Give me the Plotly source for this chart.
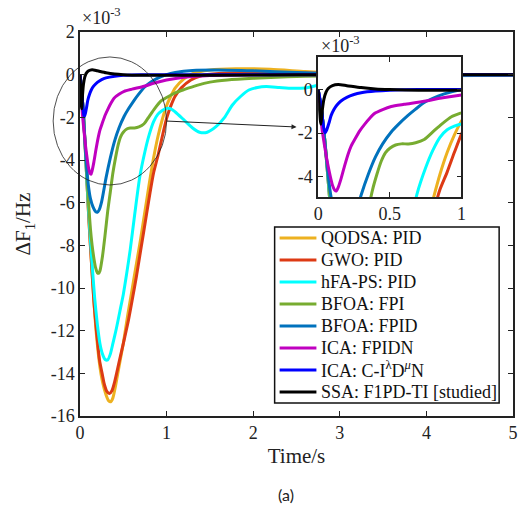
import plotly.graph_objects as go

# ---------------- data (values in units of 1e-3 Hz) ----------------
NAMES = ["QODSA: PID", "GWO: PID", "hFA-PS: PID", "BFOA: FPI", "BFOA: FPID",
         "ICA: FPIDN", "ICA: C-I<sup>λ</sup>D<sup><i>μ</i></sup>N", "SSA: F1PD-TI [studied]"]
COLORS = ["#EDB120", "#DD3A14", "#00FFFF", "#77AC30", "#0072BD", "#C000C0", "#0000FF", "#000000"]

t_qodsa = [0, 0.02, 0.04, 0.06, 0.08, 0.1, 0.12, 0.14, 0.16, 0.19, 0.23, 0.26, 0.3, 0.33, 0.355, 0.38, 0.41,
           0.45, 0.5, 0.55, 0.6, 0.65, 0.7, 0.75, 0.8, 0.85, 0.9, 0.95, 1.0, 1.05, 1.1, 1.2, 1.3, 1.5, 1.8, 2.2,
           2.6, 3.0, 3.5, 4.0, 5.0]
v_qodsa = [0, -0.8, -1.9, -3.4, -5.0, -6.6, -8.0, -9.3, -10.6, -12.2, -13.7, -14.4, -15.0, -15.28, -15.33,
           -15.15, -14.6, -13.7, -12.6, -11.3, -10.1, -8.9, -7.7, -6.4, -5.1, -3.9, -2.9, -2.1, -1.45, -1.0,
           -0.62, -0.2, 0.05, 0.22, 0.28, 0.25, 0.15, 0.07, 0.02, 0.0, 0.0]

t_gwo = [0, 0.02, 0.04, 0.06, 0.08, 0.1, 0.12, 0.14, 0.16, 0.19, 0.225, 0.26, 0.28, 0.31, 0.34, 0.37, 0.4,
         0.45, 0.517, 0.56, 0.61, 0.65, 0.69, 0.73, 0.77, 0.81, 0.85, 0.9, 0.95, 1.0, 1.05, 1.1, 1.17, 1.28,
         1.4, 1.6, 2.0, 2.5, 3.0, 4.0, 5.0]
v_gwo = [0, -0.8, -1.9, -3.4, -5.0, -6.6, -8.0, -9.3, -10.6, -12.0, -13.37, -14.1, -14.5, -14.85, -14.94,
         -14.8, -14.4, -13.5, -12.3, -11.5, -10.4, -9.5, -8.5, -7.5, -6.5, -5.5, -4.6, -3.8, -2.9, -2.05,
         -1.45, -1.0, -0.62, -0.25, -0.05, 0.05, 0.1, 0.08, 0.05, 0.0, 0.0]

t_hfa = [0, 0.02, 0.04, 0.06, 0.08, 0.1, 0.12, 0.14, 0.17, 0.2, 0.23, 0.26, 0.29, 0.32, 0.35, 0.38, 0.42,
         0.46, 0.5, 0.54, 0.58, 0.63, 0.69, 0.75, 0.8, 0.85, 0.9, 0.95, 1.0, 1.05, 1.1, 1.2, 1.3, 1.38, 1.47,
         1.57, 1.67, 1.76, 1.86, 1.95, 2.05, 2.15, 2.3, 2.45, 2.6, 2.8, 3.0, 3.3, 3.7, 4.2, 5.0]
v_hfa = [0, -0.8, -1.9, -3.4, -5.0, -6.4, -7.7, -8.9, -10.5, -11.7, -12.6, -13.1, -13.35, -13.37, -13.1,
         -12.6, -11.9, -11.1, -10.3, -9.3, -8.2, -6.6, -4.8, -3.6, -2.8, -2.2, -1.85, -1.68, -1.58, -1.6,
         -1.75, -2.12, -2.5, -2.7, -2.7, -2.44, -2.0, -1.42, -1.0, -0.72, -0.6, -0.56, -0.6, -0.64, -0.62,
         -0.45, -0.3, -0.15, -0.08, -0.05, -0.03]

t_fpi = [0, 0.02, 0.04, 0.06, 0.08, 0.1, 0.12, 0.14, 0.16, 0.18, 0.2, 0.215, 0.23, 0.26, 0.29, 0.32, 0.35,
         0.38, 0.41, 0.44, 0.47, 0.5, 0.54, 0.58, 0.63, 0.68, 0.74, 0.8, 0.86, 0.93, 1.0, 1.1, 1.2, 1.35, 1.5,
         1.7, 2.0, 2.4, 2.8, 3.2, 4.0, 5.0]
v_fpi = [0, -0.8, -1.9, -3.3, -4.8, -6.1, -7.2, -8.0, -8.6, -9.05, -9.28, -9.31, -9.2, -8.5, -7.5, -6.4,
         -5.5, -4.6, -3.9, -3.3, -2.9, -2.7, -2.55, -2.5, -2.5, -2.45, -2.3, -1.95, -1.6, -1.25, -1.07,
         -0.85, -0.7, -0.5, -0.35, -0.25, -0.17, -0.1, -0.06, -0.03, 0.0, 0.0]

t_fpid = [0, 0.02, 0.04, 0.06, 0.08, 0.1, 0.12, 0.15, 0.18, 0.2, 0.22, 0.25, 0.28, 0.3, 0.35, 0.4, 0.45,
          0.51, 0.56, 0.625, 0.68, 0.74, 0.8, 0.88, 1.0, 1.1, 1.3, 1.6, 2.0, 2.5, 3.0, 4.0, 5.0]
v_fpid = [0, -0.8, -1.9, -3.3, -4.5, -5.3, -5.8, -6.2, -6.42, -6.45, -6.35, -5.95, -5.3, -4.85, -3.9,
          -3.1, -2.5, -1.95, -1.6, -1.2, -0.9, -0.6, -0.4, -0.2, 0.0, 0.1, 0.2, 0.22, 0.18, 0.1, 0.04, 0.0, 0.0]

t_fpidn = [0, 0.015, 0.026, 0.045, 0.065, 0.085, 0.1, 0.115, 0.127, 0.14, 0.16, 0.185, 0.21, 0.23, 0.255,
           0.29, 0.324, 0.36, 0.393, 0.45, 0.51, 0.6, 0.74, 0.87, 1.0, 1.2, 1.5, 2.0, 3.0, 5.0]
v_fpidn = [0, -0.8, -1.76, -2.6, -3.37, -4.0, -4.4, -4.62, -4.67, -4.5, -4.1, -3.5, -2.95, -2.6, -2.3,
           -1.9, -1.6, -1.32, -1.1, -0.92, -0.78, -0.68, -0.54, -0.38, -0.25, -0.12, -0.04, 0.0, 0.0, 0.0]

t_cid = [0, 0.02, 0.035, 0.047, 0.06, 0.076, 0.09, 0.11, 0.13, 0.157, 0.2, 0.25, 0.3, 0.4, 0.5, 0.7, 1.0,
         2.0, 3.0, 4.0, 5.0]
v_cid = [0, -0.7, -1.6, -1.99, -1.85, -1.53, -1.2, -0.92, -0.72, -0.54, -0.36, -0.23, -0.15, -0.07, -0.03,
         0.0, 0.0, 0.0, 0.0, 0.0, 0.0]

t_ssa = [0, 0.008, 0.015, 0.02, 0.03, 0.04, 0.055, 0.07, 0.1, 0.14, 0.2, 0.3, 0.4, 0.5, 0.7, 1.0, 2.0,
         3.0, 4.0, 5.0]
v_ssa = [0, -0.8, -1.4, -1.6, -0.9, -0.45, -0.12, 0.05, 0.18, 0.23, 0.18, 0.09, 0.03, 0.0, -0.03, -0.03,
         -0.02, 0.0, 0.0, 0.0]

T_SERIES = [t_qodsa, t_gwo, t_hfa, t_fpi, t_fpid, t_fpidn, t_cid, t_ssa]
V_SERIES = [v_qodsa, v_gwo, v_hfa, v_fpi, v_fpid, v_fpidn, v_cid, v_ssa]

X_TICKS = [0, 1, 2, 3, 4, 5]
Y_TICKS = [2, 0, -2, -4, -6, -8, -10, -12, -14, -16]
INSET_X_TICKS = [0, 0.5, 1]
INSET_Y_TICKS = [0, -2, -4]
INSET_X_RANGE = [0, 1]
INSET_Y_RANGE = [-4.95, 1.5]

SERIF = "Liberation Serif, Times New Roman, Times, serif"
INK = "#222"

fig = go.Figure()

# main curves
for name, col, tt, vv in zip(NAMES, COLORS, T_SERIES, V_SERIES):
    fig.add_trace(go.Scatter(x=tt, y=vv, mode="lines", name=name, showlegend=False,
                             line=dict(color=col, width=3, shape="spline", smoothing=0.6),
                             xaxis="x", yaxis="y"))

# inset white background
fig.add_trace(go.Scatter(x=[INSET_X_RANGE[0], INSET_X_RANGE[1], INSET_X_RANGE[1], INSET_X_RANGE[0], INSET_X_RANGE[0]],
                         y=[INSET_Y_RANGE[0], INSET_Y_RANGE[0], INSET_Y_RANGE[1], INSET_Y_RANGE[1], INSET_Y_RANGE[0]],
                         fill="toself", fillcolor="white", mode="lines", line=dict(width=0, color="white"),
                         showlegend=False, hoverinfo="skip", xaxis="x2", yaxis="y2"))
# inset curves
for name, col, tt, vv in zip(NAMES, COLORS, T_SERIES, V_SERIES):
    fig.add_trace(go.Scatter(x=tt, y=vv, mode="lines", name=name, showlegend=False,
                             line=dict(color=col, width=3, shape="spline", smoothing=0.6),
                             xaxis="x2", yaxis="y2"))

axis_common = dict(showline=True, linecolor=INK, linewidth=1.5, mirror="ticks", ticks="inside",
                   ticklen=5, tickwidth=1.2, tickcolor=INK, showgrid=False, zeroline=False,
                   tickfont=dict(family=SERIF, size=18, color=INK))

fig.update_layout(
    width=530, height=507,
    margin=dict(l=80, r=14, t=32, b=91),
    paper_bgcolor="white", plot_bgcolor="white",
    showlegend=False,
    xaxis=dict(range=[0, 5], tickvals=X_TICKS, ticktext=[str(v) for v in X_TICKS],
               domain=[0, 1], anchor="y",
               title=dict(text="Time/s", font=dict(family=SERIF, size=21, color=INK), standoff=6),
               **axis_common),
    yaxis=dict(range=[-16, 2], tickvals=Y_TICKS, ticktext=[str(v) for v in Y_TICKS],
               domain=[0, 1], anchor="x",
               title=dict(text="ΔF<sub>1</sub>/Hz", font=dict(family=SERIF, size=21, color=INK), standoff=14),
               **axis_common),
    xaxis2=dict(range=INSET_X_RANGE, tickvals=INSET_X_TICKS, ticktext=["0", "0.5", "1"],
                domain=[0.550, 0.881], anchor="y2", **axis_common),
    yaxis2=dict(range=INSET_Y_RANGE, tickvals=INSET_Y_TICKS, ticktext=[str(v) for v in INSET_Y_TICKS],
                domain=[0.570, 0.935], anchor="x2", **axis_common),
)

# ---- legend box (MATLAB style) ----
LEG_X0, LEG_X1, LEG_Y0, LEG_Y1 = 0.4495, 0.968, 0.034, 0.492
fig.add_shape(type="rect", xref="paper", yref="paper", x0=LEG_X0, x1=LEG_X1, y0=LEG_Y0, y1=LEG_Y1,
              fillcolor="white", line=dict(color="#111", width=1.5), layer="above")
row_h = (LEG_Y1 - LEG_Y0) / len(NAMES)
for i, (name, col) in enumerate(zip(NAMES, COLORS)):
    yc = LEG_Y1 - (i + 0.5) * row_h
    fig.add_shape(type="line", xref="paper", yref="paper", x0=0.461, x1=0.546, y0=yc, y1=yc,
                  line=dict(color=col, width=3), layer="above")
    fig.add_annotation(xref="paper", yref="paper", x=0.551, y=yc, xanchor="left", yanchor="middle",
                       text=name, showarrow=False, font=dict(family=SERIF, size=18, color="#111"))

fig.add_shape(type="circle", xref="paper", yref="paper", x0=-0.062, x1=0.2, y0=0.6016, y1=0.935,
              line=dict(color=INK, width=0.8))
fig.add_annotation(xref="paper", yref="paper", x=0.5, y=0.7526, ax=-131, ay=-6,
                   showarrow=True, arrowhead=2, arrowsize=1, arrowwidth=1, arrowcolor=INK, text="")
fig.add_annotation(xref="paper", yref="paper", x=0.0, y=1.04, xanchor="left", yanchor="middle",
                   text="×10<sup>-3</sup>", showarrow=False, font=dict(family=SERIF, size=18, color=INK))
fig.add_annotation(xref="paper", yref="paper", x=0.553, y=0.968, xanchor="left", yanchor="middle",
                   text="×10<sup>-3</sup>", showarrow=False, font=dict(family=SERIF, size=18, color=INK))
fig.add_annotation(xref="paper", yref="paper", x=0.475, y=-0.205, xanchor="center", yanchor="middle",
                   text="(a)", showarrow=False, font=dict(family="Lato", size=16, color=INK))

fig.write_html("out.html")
